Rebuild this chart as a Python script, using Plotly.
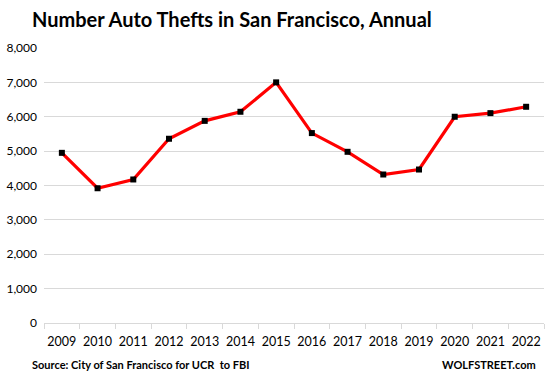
import plotly.graph_objects as go

years = ["2009", "2010", "2011", "2012", "2013", "2014", "2015",
         "2016", "2017", "2018", "2019", "2020", "2021", "2022"]
thefts = [4950, 3920, 4175, 5360, 5880, 6145, 7000,
          5525, 4980, 4320, 4465, 6000, 6105, 6290]
y_ticks = [0, 1000, 2000, 3000, 4000, 5000, 6000, 7000, 8000]
y_tick_labels = ["0", "1,000", "2,000", "3,000", "4,000", "5,000", "6,000", "7,000", "8,000"]

title_text = "Number Auto Thefts in San Francisco, Annual"
source_text = "Source: City of San Francisco for UCR  to FBI"
brand_text = "WOLFSTREET.com"

FONT = "Lato"

fig = go.Figure()
fig.add_trace(go.Scatter(
    x=years, y=thefts, mode="lines+markers",
    line=dict(color="#ff0000", width=3.2),
    marker=dict(symbol="square", size=6, color="#000000"),
    cliponaxis=False,
))

fig.update_layout(
    width=545, height=374,
    margin=dict(l=44, r=1, t=48, b=51, autoexpand=False),
    paper_bgcolor="white", plot_bgcolor="white",
    showlegend=False,
    font=dict(family=FONT, color="#000000", size=12),
    title=dict(text="<b>" + title_text + "</b>", x=32 / 545, xanchor="left",
               y=1 - 20 / 374, yanchor="middle",
               font=dict(family=FONT, size=20, color="#000000")),
    xaxis=dict(type="category", range=[-0.5, 13.5], showgrid=False,
               showline=True, linecolor="#d9d9d9", linewidth=1,
               ticks="outside", tickson="boundaries", ticklen=5, tickcolor="#d9d9d9",
               tickangle=0, automargin=False, ticklabelstandoff=7,
               tickfont=dict(family=FONT, size=12.5, color="#000000"),
               fixedrange=True),
    yaxis=dict(range=[0, 8000], tickvals=y_ticks, ticktext=y_tick_labels,
               showgrid=True, gridcolor="#d9d9d9", gridwidth=1,
               zeroline=False, showline=False, ticks="",
               ticklabelstandoff=6, automargin=False,
               tickfont=dict(family=FONT, size=12, color="#000000"),
               fixedrange=True),
    annotations=[
        dict(text="<b>" + source_text + "</b>", xref="paper", yref="paper",
             x=-14 / 500, y=-41 / 275, xanchor="left", yanchor="middle",
             showarrow=False, font=dict(family=FONT, size=11, color="#000000")),
        dict(text="<b>" + brand_text + "</b>", xref="paper", yref="paper",
             x=(538 - 44) / 500, y=-41 / 275, xanchor="right", yanchor="middle",
             showarrow=False, font=dict(family=FONT, size=11, color="#000000")),
    ],
)

fig.write_html("out.html", config={"displayModeBar": False},
               post_script="document.body.style.margin='0';document.body.style.overflow='hidden';")
